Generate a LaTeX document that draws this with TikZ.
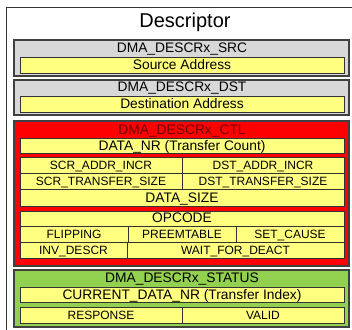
\documentclass[tikz,border=0pt]{standalone}
\usepackage{fontspec}
\setmainfont{Liberation Sans}
\definecolor{regGray}{RGB}{216,216,216}
\definecolor{fieldYellow}{RGB}{255,255,128}
\definecolor{ctlRed}{RGB}{255,0,0}
\definecolor{statGreen}{RGB}{146,208,80}
\definecolor{edgeDark}{RGB}{64,64,64}
\definecolor{ctlText}{RGB}{110,0,0}
\tikzset{
  outerframe/.style={draw=black!80, line width=1pt, fill=white},
  regbox/.style={draw=edgeDark, line width=1.4pt},
  fieldbox/.style={draw=black!80, line width=0.9pt, fill=fieldYellow},
  divider/.style={draw=black!80, line width=0.9pt},
  bigtxt/.style={anchor=base, inner sep=0pt, font=\fontsize{13.8}{14}\selectfont},
  smalltxt/.style={anchor=base, inner sep=0pt, font=\fontsize{12}{13}\selectfont},
  titletxt/.style={anchor=base, inner sep=0pt, font=\fontsize{20}{22}\selectfont},
}
\begin{document}
\begin{tikzpicture}[x=1pt,y=-1pt]
\useasboundingbox (0,0) rectangle (352,329);
\clip (0,0) rectangle (352,329);
\fill[white] (0,0) rectangle (352,329);

% outer descriptor frame
\draw[outerframe] (6,8) rectangle (362,340);
\node[titletxt] (title) at (185,27.7) {Descriptor};

% source register
\draw[regbox, fill=regGray] (14,40) rectangle (349,76);
\node[bigtxt] (srcreg) at (182,52) {DMA\_DESCRx\_SRC};
\draw[fieldbox] (20,57) rectangle (344,73);
\node[bigtxt] (srcaddr) at (182,69) {Source Address};

% destination register
\draw[regbox, fill=regGray] (14,80) rectangle (349,115);
\node[bigtxt] (dstreg) at (182,91.5) {DMA\_DESCRx\_DST};
\draw[fieldbox] (20,96.5) rectangle (344,112);
\node[bigtxt] (dstaddr) at (182,108.5) {Destination Address};

% control register
\draw[regbox, fill=ctlRed] (14,121) rectangle (349,266);
\node[bigtxt, text=ctlText] (ctlreg) at (182,134) {DMA\_DESCRx\_CTL};
\draw[fieldbox] (20,138) rectangle (344,153);
\node[bigtxt] (datanr) at (182,150) {DATA\_NR (Transfer Count)};

\draw[fieldbox] (20,157) rectangle (344,206);
\draw[divider] (20,173) -- (344,173);
\draw[divider] (20,189) -- (344,189);
\draw[divider] (182,157) -- (182,189);
\node[smalltxt] (srcincr) at (101,169.3) {SCR\_ADDR\_INCR};
\node[smalltxt] (dstincr) at (263,169.3) {DST\_ADDR\_INCR};
\node[smalltxt] (srcsize) at (101,185.3) {SCR\_TRANSFER\_SIZE};
\node[smalltxt] (dstsize) at (263,185.3) {DST\_TRANSFER\_SIZE};
\node[bigtxt] (datasize) at (182,202) {DATA\_SIZE};

\draw[fieldbox] (20,211) rectangle (344,258);
\draw[divider] (20,226) -- (344,226);
\draw[divider] (20,242) -- (344,242);
\draw[divider] (128,226) -- (128,242);
\draw[divider] (236,226) -- (236,242);
\draw[divider] (127,242) -- (127,258);
\node[bigtxt] (opcode) at (182,222.5) {OPCODE};
\node[smalltxt] (flip) at (74,238.3) {FLIPPING};
\node[smalltxt] (preempt) at (182,238.3) {PREEMTABLE};
\node[smalltxt] (setcause) at (290,238.3) {SET\_CAUSE};
\node[smalltxt] (invdescr) at (73.5,254.3) {INV\_DESCR};
\node[smalltxt] (waitdeact) at (235.5,254.3) {WAIT\_FOR\_DEACT};

% status register
\draw[regbox, fill=statGreen] (14,270) rectangle (349,327);
\node[bigtxt] (statreg) at (182,282.7) {DMA\_DESCRx\_STATUS};
\draw[fieldbox] (20,287) rectangle (344,302);
\node[bigtxt] (curnr) at (182,299) {CURRENT\_DATA\_NR (Transfer Index)};
\draw[fieldbox] (20,307) rectangle (344,323);
\draw[divider] (182,307) -- (182,323);
\node[smalltxt] (response) at (101,319.3) {RESPONSE};
\node[smalltxt] (valid) at (263,319.3) {VALID};
\end{tikzpicture}
\end{document}
